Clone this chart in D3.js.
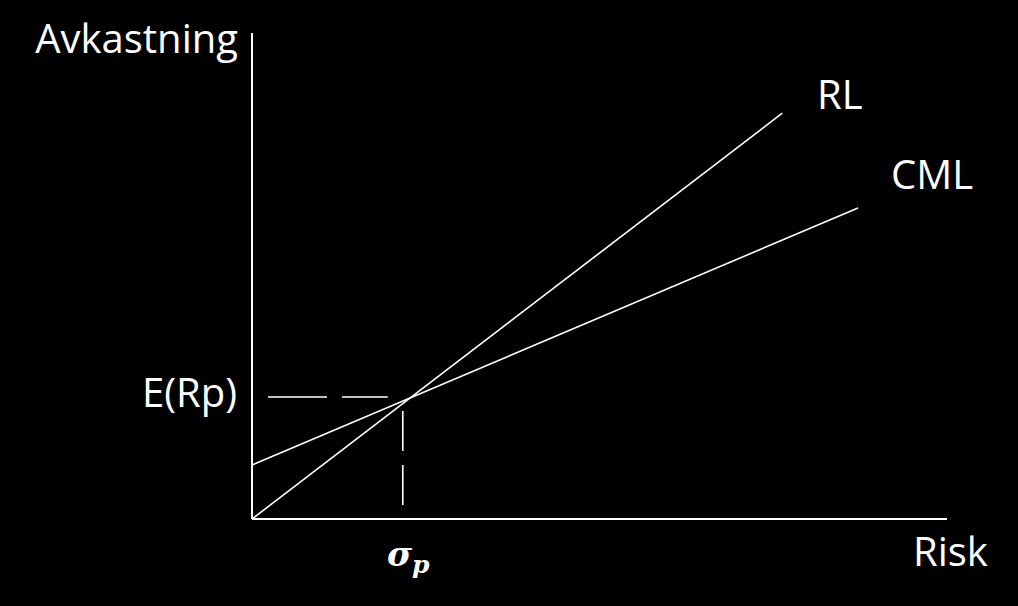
<!DOCTYPE html>
<html><head><meta charset="utf-8">
<script src="https://cdn.jsdelivr.net/npm/d3@7"></script>
<style>html,body{margin:0;padding:0;background:#000;}svg{display:block;}</style>
</head><body>
<svg id="c" width="1018" height="606"></svg>
<script>
// Data (units: % of axis extent)
const lineNames = ["RL", "CML"];
const lineStart = [[0, 0], [0, 11.1]];
const lineEnd = [[76.3, 83.5], [87.2, 64.0]];
const portfolioRisk = 22.7;   // σp
const portfolioReturn = 24.9; // E(Rp)
const axisLabels = ["Avkastning", "Risk"];
const pointLabels = ["E(Rp)", "σ", "p"];

const svg = d3.select("#c");
svg.append("rect").attr("width", 1018).attr("height", 606).attr("fill", "#000");
const x = d3.scaleLinear().domain([0, 100]).range([252, 947]);
const y = d3.scaleLinear().domain([0, 100]).range([519, 33]);
const font = "'Open Sans', Lato, sans-serif";

// axes
svg.append("line").attr("x1", x(0)).attr("x2", x(0)).attr("y1", y(100)).attr("y2", y(0))
  .attr("stroke", "#fff").attr("stroke-width", 2);
svg.append("line").attr("x1", x(0)).attr("x2", x(100)).attr("y1", y(0)).attr("y2", y(0))
  .attr("stroke", "#fff").attr("stroke-width", 2);

// lines
lineNames.forEach((n, i) => {
  svg.append("line")
    .attr("x1", x(lineStart[i][0])).attr("y1", y(lineStart[i][1]))
    .attr("x2", x(lineEnd[i][0])).attr("y2", y(lineEnd[i][1]))
    .attr("stroke", "#fff").attr("stroke-width", 1.6);
});

// dashed guides
svg.append("line").attr("x1", 268).attr("x2", x(portfolioRisk) - 22)
  .attr("y1", y(portfolioReturn) - 1).attr("y2", y(portfolioReturn) - 1)
  .attr("stroke", "#fff").attr("stroke-width", 1.6).attr("stroke-dasharray", "59,15");
svg.append("line").attr("x1", x(portfolioRisk) - 7).attr("x2", x(portfolioRisk) - 7)
  .attr("y1", y(portfolioReturn) + 13).attr("y2", 505)
  .attr("stroke", "#fff").attr("stroke-width", 1.6).attr("stroke-dasharray", "40,14");

// text labels
const t = (txt, xx, yy, opts = {}) => svg.append("text").attr("x", xx).attr("y", yy)
  .attr("fill", "#fff").attr("font-family", opts.family || font)
  .attr("font-size", opts.size || 36).attr("text-anchor", opts.anchor || "start")
  .attr("font-weight", opts.weight || "normal").text(txt);

t(axisLabels[0], 238, 53, {anchor: "end", size: 40});
t(axisLabels[1], 913, 566, {size: 40});
t(pointLabels[0], 237, 407, {anchor: "end", size: 40});
lineNames.forEach((n, i) => {
  if (i === 0) t(n, 817, 109, {size: 40});
  else t(n, 891, 189, {size: 40});
});
const sig = svg.append("text").attr("x", 387).attr("y", 566).attr("fill", "#fff")
  .attr("font-family", "'DejaVu Serif', serif").attr("font-weight", "bold")
  .attr("font-style", "italic").attr("font-size", 34);
sig.append("tspan").text(pointLabels[1]);
sig.append("tspan").attr("dy", 7).attr("font-size", 25).text(pointLabels[2]);
</script>
</body></html>
